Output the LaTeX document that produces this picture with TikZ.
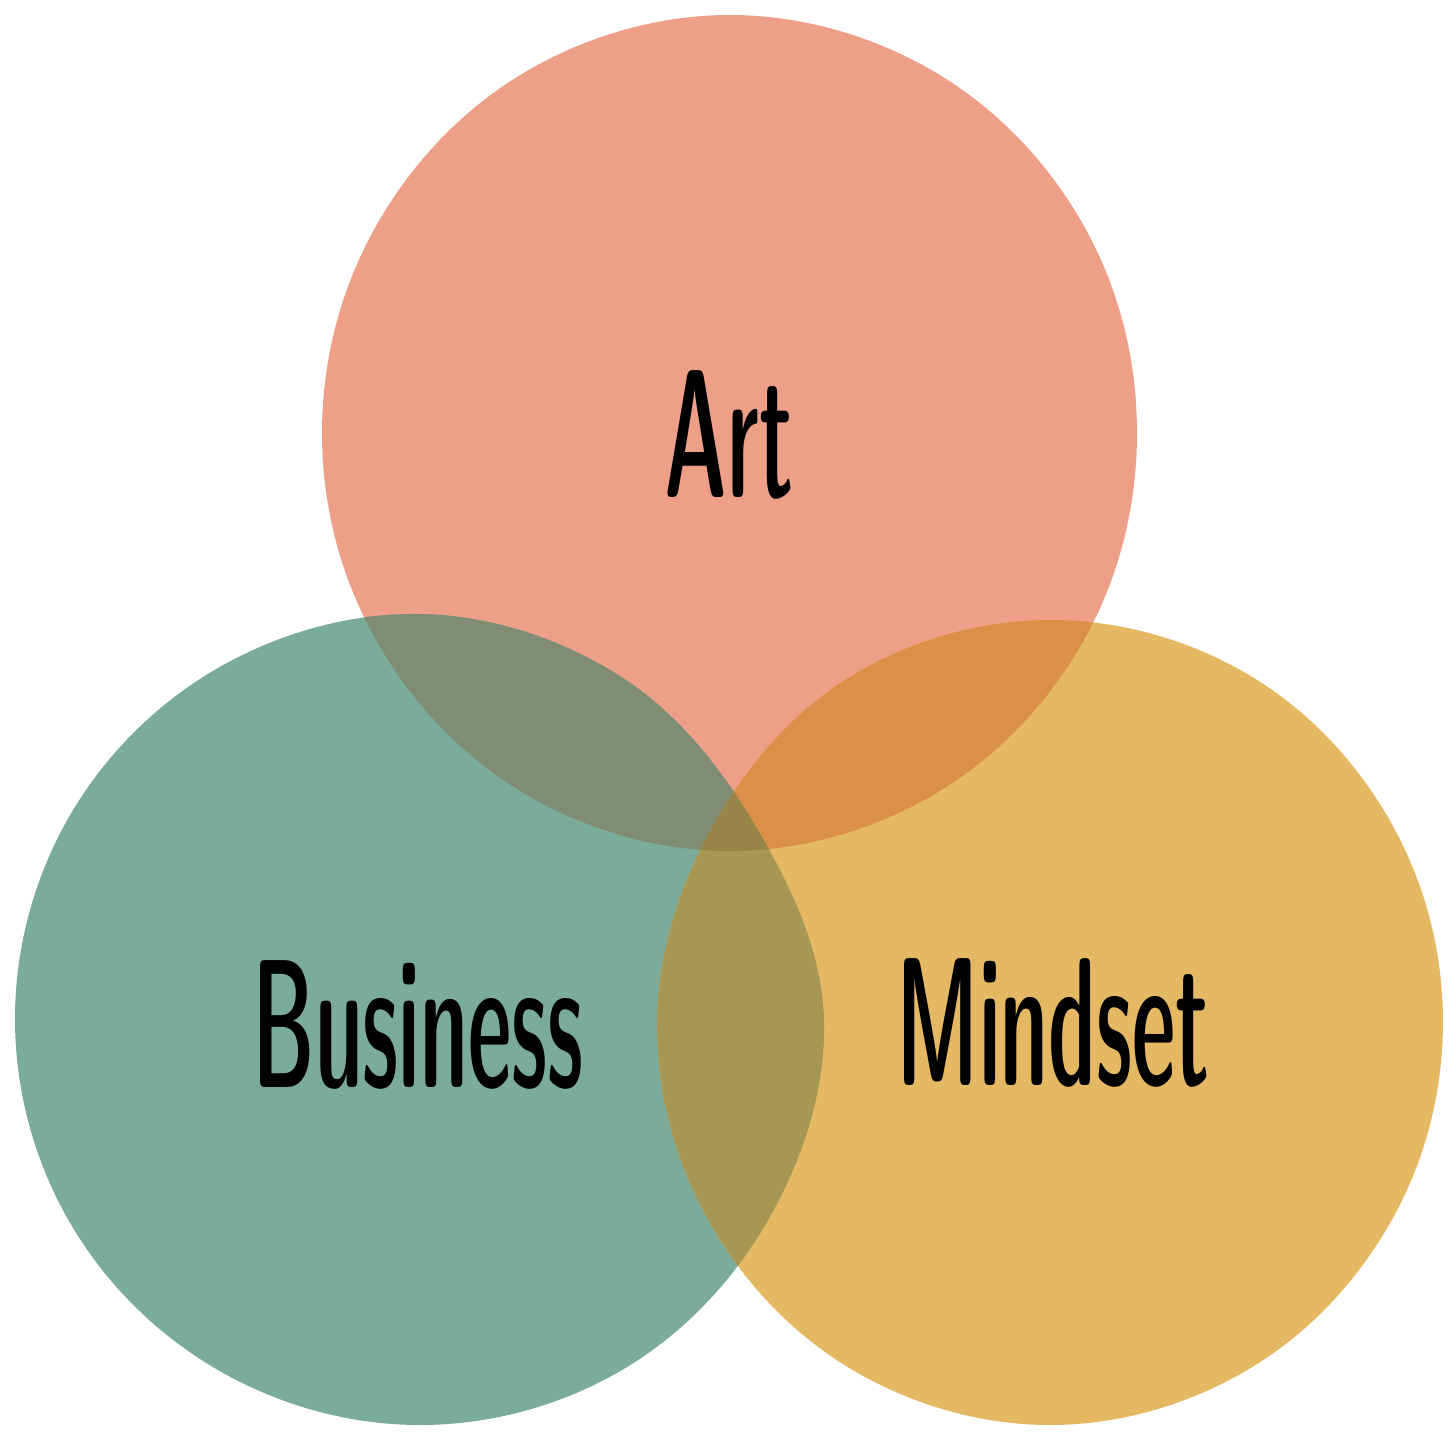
\documentclass[tikz,border=0pt]{standalone}
\definecolor{artfill}{RGB}{237,160,135}
\definecolor{busfill}{RGB}{123,172,155}
\definecolor{mindfill}{RGB}{229,184,100}
\definecolor{artbus}{RGB}{128,140,116}
\definecolor{artmind}{RGB}{218,144,72}
\definecolor{busmind}{RGB}{166,152,84}
\definecolor{allthree}{RGB}{150,132,72}
\newcommand\artblob{plot[smooth cycle, tension=.63] coordinates {(0:407) (30:410) (60:415) (90:418) (120:415) (150:410) (180:408) (210:410) (240:415) (270:418) (300:415) (330:410)}}
\newcommand\busblob{plot[smooth cycle, tension=.63] coordinates {(0:404) (30:402) (60:405) (90:406) (120:405) (150:405) (180:405) (210:405) (240:405) (270:405) (300:397) (330:387)}}
\newcommand\mindblob{plot[smooth cycle, tension=.63] coordinates {(0:393) (30:395) (60:400) (90:403) (120:400) (150:395) (180:393) (210:390) (240:399) (270:402) (300:400) (330:395)}}

\begin{document}
\begin{tikzpicture}[x=0.01cm, y=-0.01cm,
	word/.style={font=\sffamily\fontseries{sbc}\fontsize{52}{60}\selectfont, inner sep=0pt, anchor=base},
	artpos/.style={shift={(730,433)}},
	buspos/.style={shift={(420,1019)}},
	mindpos/.style={shift={(1050,1022)}}]
	\useasboundingbox (0,0) rectangle (1456,1438);

	\fill[artfill, artpos] \artblob;
	\fill[busfill, buspos] \busblob;
	\fill[mindfill, mindpos] \mindblob;

	\begin{scope}
		\clip[artpos] \artblob;
		\fill[artbus, buspos] \busblob;
		\fill[artmind, mindpos] \mindblob;
	\end{scope}
	\begin{scope}
		\clip[buspos] \busblob;
		\fill[busmind, mindpos] \mindblob;
		\clip[mindpos] \mindblob;
		\fill[allthree, artpos] \artblob;
	\end{scope}

	\node[word] (art) at (729,497) {\scalebox{0.54}[1]{Art}};
	\node[word] (business) at (418,1087) {\scalebox{0.54}[1]{Business}};
	\node[word] (mindset) at (1053,1085) {\scalebox{0.54}[1]{Mindset}};
\end{tikzpicture}
\end{document}
